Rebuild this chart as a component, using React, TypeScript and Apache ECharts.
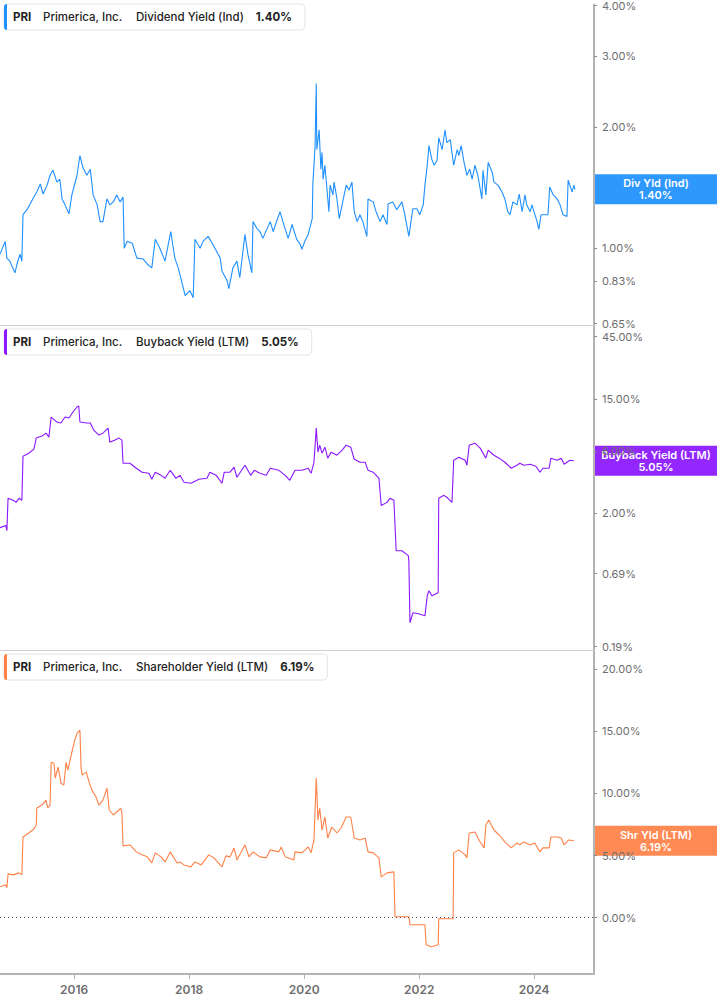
import React, { useEffect, useRef } from "react";
import * as echarts from "echarts";

const TICKER = "PRI";
const COMPANY = "Primerica, Inc.";

// [decimal year, yield %]
const divYield: [number, number][] = [
  [2014.71, 0.967], [2014.80, 1.040], [2014.83, 0.945], [2014.88, 0.929], [2014.97, 0.869],
  [2015.01, 0.919], [2015.06, 0.967], [2015.09, 0.929], [2015.11, 1.211], [2015.18, 1.246],
  [2015.28, 1.325], [2015.35, 1.379], [2015.41, 1.443], [2015.46, 1.363], [2015.53, 1.434],
  [2015.58, 1.517], [2015.63, 1.561], [2015.70, 1.459], [2015.75, 1.483], [2015.79, 1.325],
  [2015.84, 1.281], [2015.91, 1.218], [2015.96, 1.356], [2016.05, 1.517], [2016.10, 1.698],
  [2016.15, 1.588], [2016.22, 1.517], [2016.28, 1.570], [2016.33, 1.356], [2016.40, 1.281],
  [2016.45, 1.164], [2016.50, 1.164], [2016.57, 1.325], [2016.62, 1.281], [2016.68, 1.303],
  [2016.74, 1.356], [2016.80, 1.303], [2016.85, 1.340], [2016.87, 1.000], [2016.92, 1.040],
  [2017.01, 1.029], [2017.09, 0.945], [2017.20, 0.940], [2017.27, 0.914], [2017.35, 0.894],
  [2017.41, 1.052], [2017.49, 1.000], [2017.58, 0.929], [2017.68, 1.100], [2017.75, 0.945],
  [2017.81, 0.894], [2017.88, 0.816], [2017.93, 0.763], [2018.01, 0.785], [2018.07, 0.754],
  [2018.10, 1.052], [2018.19, 1.000], [2018.24, 1.040], [2018.33, 1.070], [2018.41, 1.023],
  [2018.54, 0.945], [2018.57, 0.878], [2018.66, 0.830], [2018.69, 0.794], [2018.76, 0.894],
  [2018.83, 0.929], [2018.88, 0.845], [2018.97, 1.082], [2019.02, 0.967], [2019.09, 0.869],
  [2019.11, 1.164], [2019.18, 1.119], [2019.23, 1.100], [2019.28, 1.058], [2019.41, 1.164],
  [2019.46, 1.100], [2019.58, 1.232], [2019.63, 1.164], [2019.72, 1.058], [2019.79, 1.145],
  [2019.87, 1.052], [2019.93, 1.023], [2019.96, 0.994], [2020.01, 1.040], [2020.07, 1.082],
  [2020.14, 1.184], [2020.15, 1.434], [2020.19, 1.797], [2020.21, 2.563], [2020.22, 1.757],
  [2020.26, 1.967], [2020.29, 1.570], [2020.31, 1.727], [2020.33, 1.483], [2020.36, 1.606],
  [2020.40, 1.379], [2020.43, 1.232], [2020.45, 1.434], [2020.50, 1.356], [2020.52, 1.459],
  [2020.57, 1.325], [2020.61, 1.184], [2020.67, 1.303], [2020.73, 1.434], [2020.78, 1.394],
  [2020.83, 1.459], [2020.87, 1.232], [2020.92, 1.164], [2020.97, 1.211], [2021.02, 1.164],
  [2021.09, 1.070], [2021.11, 1.325], [2021.20, 1.303], [2021.25, 1.232], [2021.32, 1.164],
  [2021.37, 1.211], [2021.44, 1.145], [2021.46, 1.288], [2021.54, 1.303], [2021.61, 1.246],
  [2021.70, 1.303], [2021.75, 1.211], [2021.82, 1.070], [2021.89, 1.253], [2021.96, 1.253],
  [2022.01, 1.211], [2022.07, 1.281], [2022.10, 1.434], [2022.14, 1.606], [2022.17, 1.797],
  [2022.22, 1.661], [2022.26, 1.606], [2022.31, 1.651], [2022.34, 1.879], [2022.40, 1.757],
  [2022.45, 1.967], [2022.48, 1.827], [2022.54, 1.859], [2022.60, 1.606], [2022.66, 1.757],
  [2022.69, 1.698], [2022.73, 1.797], [2022.78, 1.633], [2022.83, 1.517], [2022.88, 1.570],
  [2022.92, 1.483], [2022.97, 1.606], [2023.02, 1.517], [2023.09, 1.325], [2023.11, 1.561],
  [2023.16, 1.356], [2023.20, 1.633], [2023.27, 1.543], [2023.30, 1.459], [2023.37, 1.434],
  [2023.44, 1.379], [2023.49, 1.325], [2023.54, 1.232], [2023.58, 1.211], [2023.63, 1.303],
  [2023.70, 1.281], [2023.74, 1.363], [2023.79, 1.232], [2023.84, 1.356], [2023.87, 1.281],
  [2023.93, 1.232], [2023.96, 1.281], [2024.05, 1.164], [2024.08, 1.113], [2024.12, 1.211],
  [2024.19, 1.211], [2024.24, 1.211], [2024.27, 1.418], [2024.33, 1.356], [2024.40, 1.325],
  [2024.45, 1.281], [2024.50, 1.211], [2024.57, 1.198], [2024.59, 1.475], [2024.66, 1.379],
  [2024.69, 1.434], [2024.71, 1.40],
];

const buybackYield: [number, number][] = [
  [2014.71, 1.55], [2014.81, 1.61], [2014.83, 1.47], [2014.85, 2.60], [2014.94, 2.51],
  [2014.99, 2.42], [2015.04, 2.60], [2015.09, 2.51], [2015.11, 5.47], [2015.21, 5.76],
  [2015.30, 6.19], [2015.34, 7.52], [2015.44, 7.79], [2015.51, 8.21], [2015.56, 7.65],
  [2015.60, 10.90], [2015.70, 9.98], [2015.77, 9.81], [2015.84, 10.90], [2015.91, 10.71],
  [2015.98, 11.92], [2016.05, 13.02], [2016.08, 13.25], [2016.10, 9.98], [2016.21, 9.81],
  [2016.28, 9.81], [2016.34, 8.66], [2016.43, 7.93], [2016.50, 8.21], [2016.59, 8.97],
  [2016.62, 7.00], [2016.71, 7.26], [2016.78, 7.52], [2016.83, 7.26], [2016.85, 4.83],
  [2016.97, 4.83], [2017.08, 4.42], [2017.18, 4.12], [2017.30, 4.04], [2017.35, 3.64],
  [2017.41, 4.12], [2017.51, 3.90], [2017.58, 3.70], [2017.67, 4.26], [2017.77, 3.70],
  [2017.84, 3.90], [2017.91, 3.45], [2018.03, 3.39], [2018.17, 3.64], [2018.31, 3.70],
  [2018.36, 4.12], [2018.47, 3.90], [2018.57, 3.39], [2018.61, 4.12], [2018.71, 4.12],
  [2018.78, 4.50], [2018.83, 3.77], [2018.97, 4.66], [2019.07, 3.90], [2019.13, 4.26],
  [2019.23, 4.04], [2019.34, 3.90], [2019.41, 4.42], [2019.56, 4.26], [2019.67, 3.90],
  [2019.75, 3.57], [2019.84, 4.26], [2019.96, 4.26], [2020.07, 4.42], [2020.12, 4.04],
  [2020.17, 4.91], [2020.21, 8.97], [2020.24, 5.87], [2020.27, 6.64], [2020.31, 5.76],
  [2020.36, 6.41], [2020.41, 5.28], [2020.47, 5.87], [2020.57, 5.56], [2020.66, 6.08],
  [2020.73, 6.64], [2020.81, 6.41], [2020.87, 5.18], [2020.97, 4.91], [2021.06, 4.91],
  [2021.11, 4.26], [2021.20, 4.12], [2021.30, 3.70], [2021.34, 2.29], [2021.44, 2.42],
  [2021.49, 2.60], [2021.56, 2.51], [2021.60, 1.03], [2021.70, 1.03], [2021.81, 0.946],
  [2021.82, 0.866], [2021.84, 0.289], [2021.89, 0.345], [2021.99, 0.339], [2022.10, 0.327],
  [2022.14, 0.466], [2022.17, 0.509], [2022.22, 0.466], [2022.33, 0.491], [2022.34, 2.60],
  [2022.43, 2.74], [2022.50, 2.60], [2022.57, 2.42], [2022.60, 5.09], [2022.69, 5.37],
  [2022.80, 5.09], [2022.83, 4.66], [2022.87, 6.64], [2022.97, 6.88], [2023.06, 6.30],
  [2023.16, 5.28], [2023.20, 6.08], [2023.30, 5.56], [2023.39, 5.28], [2023.49, 4.91],
  [2023.60, 4.42], [2023.70, 4.66], [2023.75, 4.83], [2023.82, 4.66], [2023.93, 4.74],
  [2024.03, 4.58], [2024.10, 4.12], [2024.15, 4.42], [2024.26, 4.42], [2024.29, 5.28],
  [2024.40, 5.09], [2024.47, 5.28], [2024.52, 4.74], [2024.62, 5.09], [2024.69, 5.05],
];

const shareholderYield: [number, number][] = [
  [2014.71, 2.49], [2014.81, 2.65], [2014.83, 2.41], [2014.85, 3.53], [2014.94, 3.45],
  [2015.04, 3.61], [2015.09, 3.45], [2015.11, 6.50], [2015.21, 6.82], [2015.30, 7.14],
  [2015.34, 7.46], [2015.35, 8.83], [2015.44, 9.07], [2015.51, 9.47], [2015.54, 8.83],
  [2015.58, 9.07], [2015.60, 12.52], [2015.65, 12.44], [2015.67, 11.24], [2015.72, 12.12],
  [2015.77, 10.83], [2015.82, 10.67], [2015.86, 12.52], [2015.89, 11.88], [2015.96, 13.32],
  [2016.01, 14.29], [2016.05, 14.85], [2016.10, 15.09], [2016.12, 12.04], [2016.14, 11.48],
  [2016.21, 11.72], [2016.26, 10.91], [2016.31, 10.27], [2016.38, 9.71], [2016.43, 9.07],
  [2016.50, 9.47], [2016.57, 10.43], [2016.61, 8.67], [2016.68, 8.27], [2016.74, 8.51],
  [2016.81, 8.83], [2016.83, 8.43], [2016.85, 5.78], [2016.97, 5.86], [2017.08, 5.30],
  [2017.18, 5.06], [2017.27, 4.90], [2017.35, 4.41], [2017.41, 5.22], [2017.51, 4.90],
  [2017.58, 4.49], [2017.67, 5.30], [2017.79, 4.41], [2017.84, 4.49], [2017.91, 4.25],
  [2018.03, 4.09], [2018.10, 4.49], [2018.21, 4.25], [2018.34, 5.06], [2018.43, 4.82],
  [2018.57, 4.09], [2018.64, 4.98], [2018.71, 4.90], [2018.78, 5.62], [2018.83, 4.65],
  [2018.97, 5.86], [2019.04, 4.90], [2019.11, 5.30], [2019.23, 4.90], [2019.34, 4.82],
  [2019.41, 5.46], [2019.56, 5.30], [2019.60, 5.70], [2019.67, 4.90], [2019.82, 4.65],
  [2019.84, 5.30], [2019.96, 5.22], [2020.07, 5.70], [2020.12, 5.22], [2020.17, 6.26],
  [2020.21, 11.24], [2020.24, 7.87], [2020.27, 8.83], [2020.31, 7.06], [2020.36, 8.11],
  [2020.41, 6.42], [2020.48, 7.30], [2020.57, 6.82], [2020.64, 7.22], [2020.73, 8.11],
  [2020.81, 8.11], [2020.87, 6.42], [2020.97, 6.26], [2021.06, 6.42], [2021.11, 5.30],
  [2021.20, 5.22], [2021.30, 4.82], [2021.34, 3.29], [2021.44, 3.61], [2021.56, 3.69],
  [2021.58, 0.08], [2021.82, 0.08], [2021.84, -0.56], [2022.10, -0.56], [2022.12, -2.17],
  [2022.21, -2.33], [2022.33, -2.17], [2022.34, -0.08], [2022.59, -0.08], [2022.60, 5.22],
  [2022.69, 5.46], [2022.80, 5.06], [2022.83, 4.82], [2022.87, 6.82], [2022.97, 6.90],
  [2023.06, 6.10], [2023.13, 5.62], [2023.16, 7.46], [2023.21, 7.87], [2023.30, 7.06],
  [2023.39, 6.66], [2023.49, 6.10], [2023.60, 5.62], [2023.70, 6.02], [2023.75, 5.86],
  [2023.82, 6.10], [2023.93, 5.86], [2024.01, 6.02], [2024.10, 5.30], [2024.15, 5.62],
  [2024.26, 5.62], [2024.29, 6.50], [2024.40, 6.50], [2024.47, 6.42], [2024.52, 5.86],
  [2024.60, 6.26], [2024.69, 6.19],
];

const yearTicks = [2016, 2018, 2020, 2022, 2024];
const xRange = [2014.71, 2025.04];
const divTicks = [0.65, 0.83, 1, 2, 3, 4];
const buybackTicks = [0.19, 0.69, 2, 6, 15, 45];
const shrTicks = [0, 5, 10, 15, 20];
const divRange = [0.645, 4.02];
const buybackRange = [0.179, 55.3];
const shrRange = [-4.53, 21.55];

const FONT = "Inter, 'Noto Sans', sans-serif";

const panels = [
  { metric: "Dividend Yield (Ind)", tag: "Div Yld (Ind)", color: "#1E90FF", data: divYield, type: "log", ticks: divTicks, range: divRange },
  { metric: "Buyback Yield (LTM)", tag: "Buyback Yield (LTM)", color: "#8A17FF", data: buybackYield, type: "log", ticks: buybackTicks, range: buybackRange },
  { metric: "Shareholder Yield (LTM)", tag: "Shr Yld (LTM)", color: "#FF8147", data: shareholderYield, type: "value", ticks: shrTicks, range: shrRange },
];

const GRID_TOPS = [0, 325, 650];
const GRID_HEIGHTS = [325, 325, 324];
const AXIS_X = 594;

export default function App() {
  const ref = useRef<HTMLDivElement>(null);
  useEffect(() => {
    if (!ref.current) return;
    const chart = echarts.init(ref.current, undefined, { renderer: "svg" });
    const last = (d: [number, number][]) => d[d.length - 1][1];
    const ctx = document.createElement("canvas").getContext("2d")!;
    const measure = (text: string, font: string) => {
      ctx.font = font;
      return ctx.measureText(text).width;
    };

    const option: any = {
      animation: false,
      grid: panels.map((_, i) => ({ left: 0, right: 717 - AXIS_X, top: GRID_TOPS[i], height: GRID_HEIGHTS[i], containLabel: false })),
      xAxis: panels.map((_, i) => ({
        type: "value",
        gridIndex: i,
        min: xRange[0],
        max: xRange[1],
        axisLine: { show: true, onZero: false, lineStyle: { color: i < 2 ? "#cfcfcf" : "#b3b3b3", width: i < 2 ? 1 : 2 } },
        axisTick: { show: i === 2, length: 5, lineStyle: { color: "#b3b3b3" }, customValues: yearTicks },
        axisLabel: {
          show: i === 2,
          customValues: yearTicks,
          formatter: (v: number) => String(v),
          color: "#6e6e6e", fontSize: 12, fontWeight: 600, fontFamily: FONT, margin: 9,
        },
        splitLine: { show: false },
      })),
      yAxis: panels.map((p, i) => ({
        type: p.type,
        logBase: 10,
        gridIndex: i,
        position: "right",
        min: p.range[0],
        max: p.range[1],
        axisLine: { show: true, onZero: false, lineStyle: { color: "#b3b3b3", width: 2 } },
        axisTick: { show: true, length: 3, lineStyle: { color: "#8a8a8a" }, customValues: p.ticks },
        axisLabel: {
          customValues: p.ticks,
          formatter: (v: number) => v.toFixed(2) + "%",
          color: "#6e6e6e", fontSize: 11, fontFamily: FONT, margin: 8,
        },
        splitLine: { show: false },
      })),
      series: panels.map((p, i) => ({
        type: "line",
        xAxisIndex: i,
        yAxisIndex: i,
        showSymbol: false,
        silent: true,
        lineStyle: { color: p.color, width: 1.1 },
        data: p.data,
        markLine: i === 2 ? {
          silent: true,
          symbol: "none",
          label: { show: false },
          lineStyle: { type: [1, 3], color: "#555", width: 1 },
          data: [{ yAxis: 0 }],
        } : undefined,
      })),
    };
    chart.setOption(option);

    const graphics: any[] = [];
    const fBold = `700 11.5px Inter`;
    const fMed = `500 11.5px Inter`;
    panels.forEach((p, i) => {
      const top = GRID_TOPS[i] + 4;
      const val = last(p.data).toFixed(2) + "%";
      const ty = 13;
      const metricX = 132;
      const valX = metricX + measure(p.metric, fMed) + 12;
      const boxW = valX + measure(val, fBold) + 13;
      graphics.push({
        type: "group", x: 4, y: top, z: 100,
        children: [
          { type: "rect", shape: { x: 0, y: 0, width: boxW, height: 26, r: 4 }, style: { fill: "#ffffff", stroke: "#e4e4e4", lineWidth: 1 } },
          { type: "rect", shape: { x: 0, y: 0, width: 3, height: 26, r: [3, 0, 0, 3] }, style: { fill: p.color } },
          { type: "text", x: 9, y: ty, style: { text: TICKER, font: `${fBold}, sans-serif`, fill: "#222", verticalAlign: "middle" } },
          { type: "text", x: 39, y: ty, style: { text: COMPANY, font: `${fMed}, sans-serif`, fill: "#222", verticalAlign: "middle" } },
          { type: "text", x: metricX, y: ty, style: { text: p.metric, font: `${fMed}, sans-serif`, fill: "#222", verticalAlign: "middle" } },
          { type: "text", x: valX, y: ty, style: { text: val, font: `${fBold}, sans-serif`, fill: "#222", verticalAlign: "middle" } },
        ],
      });
      const yPix = chart.convertToPixel({ yAxisIndex: i }, last(p.data)) as number;
      graphics.push({
        type: "group", x: AXIS_X + 1, y: yPix - 15, z: 100,
        children: [
          { type: "rect", shape: { x: 0, y: 0, width: 717 - AXIS_X - 1, height: 30 }, style: { fill: p.color, opacity: 0.93 } },
          { type: "text", x: (717 - AXIS_X - 1) / 2, y: 15, style: { text: p.tag + "\n" + val, font: `600 11px ${FONT}`, fill: "#ffffff", align: "center", verticalAlign: "middle", lineHeight: 12 } },
        ],
      });
    });
    chart.setOption({ graphic: graphics });

    return () => chart.dispose();
  }, []);
  return <div ref={ref} style={{ position: "absolute", left: 0, top: 0, width: 717, height: 1005 }} />;
}
